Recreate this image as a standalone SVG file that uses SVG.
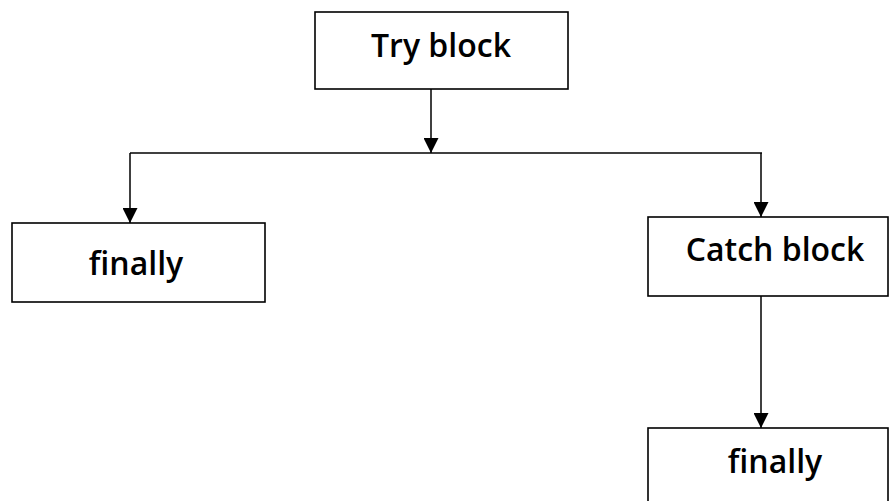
<svg xmlns="http://www.w3.org/2000/svg" width="890" height="501" viewBox="0 0 890 501">
  <style>
    .box { fill: #ffffff; stroke: #000000; stroke-width: 1.6; }
    .label { font-family: "Open Sans", "Noto Sans", sans-serif; font-weight: 600; font-size: 32px; fill: #000000; text-anchor: middle; }
    .wire { fill: none; stroke: #000000; stroke-width: 1.5; }
  </style>
  <defs>
    <marker id="arrowBig" viewBox="0 0 15 15" refX="15" refY="7.5" markerWidth="15" markerHeight="15" markerUnits="userSpaceOnUse" orient="auto">
      <path d="M0,0 L15,7.5 L0,15 Z" fill="#000000"/>
    </marker>
  </defs>

  <g id="connectors">
    <path class="wire" d="M431,89 L431,153" marker-end="url(#arrowBig)"/>
    <path class="wire" d="M130,153 L762,153"/>
    <path class="wire" d="M130,153 L130,223" marker-end="url(#arrowBig)"/>
    <path class="wire" d="M761,153 L761,217" marker-end="url(#arrowBig)"/>
    <path class="wire" d="M761,296 L761,428" marker-end="url(#arrowBig)"/>
  </g>

  <g id="try-block">
    <rect class="box" x="315" y="12" width="253" height="77"/>
    <text class="label" x="441" y="57">Try block</text>
  </g>

  <g id="finally-left">
    <rect class="box" x="12" y="223" width="253" height="79"/>
    <text class="label" x="136" y="275">finally</text>
  </g>

  <g id="catch-block">
    <rect class="box" x="648" y="217" width="240" height="79"/>
    <text class="label" x="775" y="261">Catch block</text>
  </g>

  <g id="finally-right">
    <rect class="box" x="648" y="428" width="240" height="80"/>
    <text class="label" x="775" y="473">finally</text>
  </g>
</svg>
